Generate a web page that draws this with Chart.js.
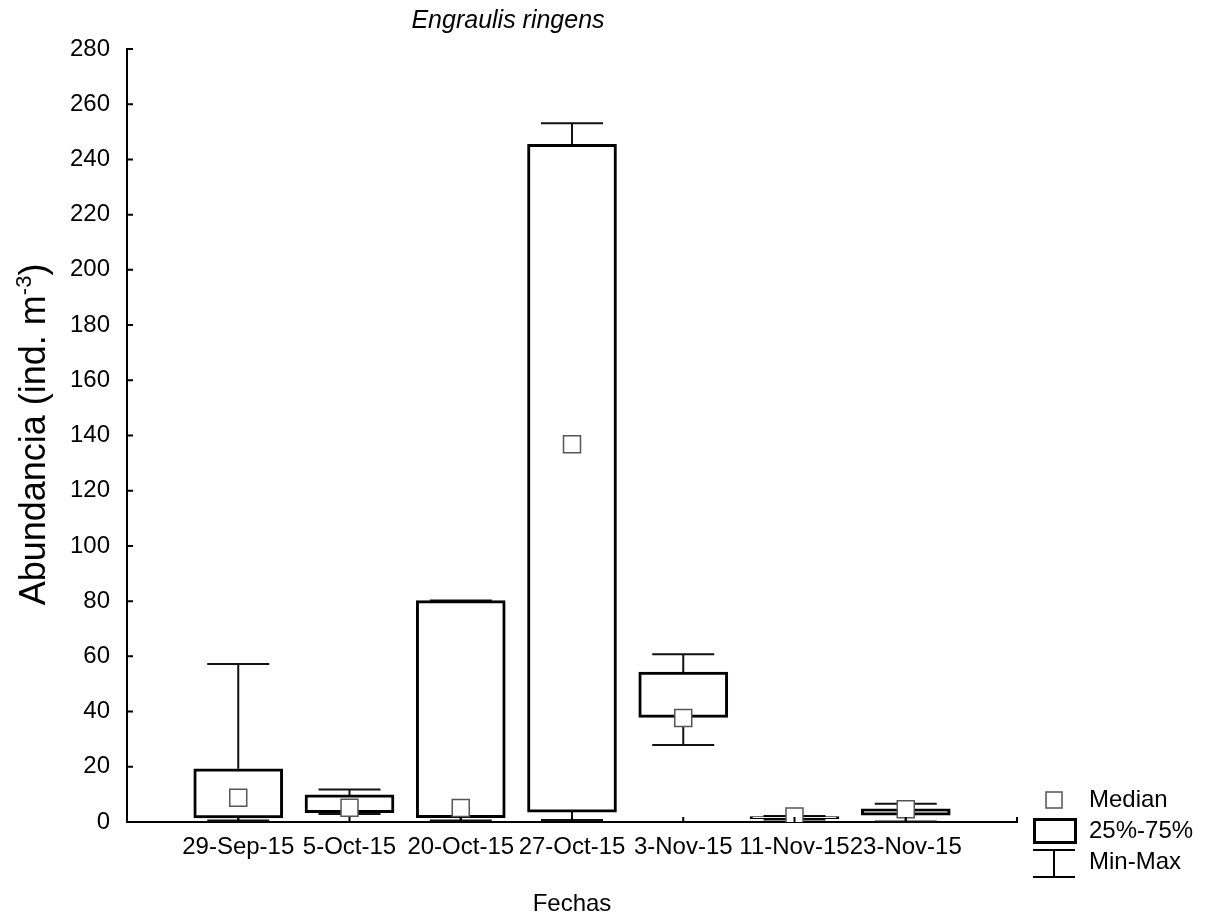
<!DOCTYPE html>
<html>
<head>
<meta charset="utf-8">
<script src="https://cdn.jsdelivr.net/npm/chart.js"></script>
<style>
  body { margin: 0; background: #fff; }
  #wrap { width: 1212px; height: 916px; }
</style>
</head>
<body>
<div id="wrap"><canvas id="boxchart"></canvas></div>
<script>
// data block
const fechas = ['29-Sep-15', '5-Oct-15', '20-Oct-15', '27-Oct-15', '3-Nov-15', '11-Nov-15', '23-Nov-15'];
const minVals = [0.5, 2.9, 0.5, 0.7, 27.9, 0.9, 0.2];
const q1Vals = [1.5, 3.4, 1.6, 3.6, 37.9, 1.2, 2.5];
const medianVals = [8.8, 5.2, 5.1, 136.8, 37.7, 2.0, 4.6];
const q3Vals = [19.3, 9.8, 80.2, 245.5, 54.3, 2.0, 4.8];
const maxVals = [57.2, 11.8, 80.2, 253.1, 60.8, 2.2, 6.6];
const yMin = 0, yMax = 280, yStep = 20;

const FONT = "'Liberation Sans', Arial, sans-serif";

// whiskers (min-max) drawn behind the boxes
const whiskerPlugin = {
  id: 'whiskers',
  beforeDatasetsDraw(chart) {
    const { ctx, scales: { x, y } } = chart;
    ctx.save();
    ctx.strokeStyle = '#111';
    ctx.lineWidth = 2;
    fechas.forEach((f, i) => {
      const px = x.getPixelForValue(i + 1);
      const half = 31;
      const yMaxP = y.getPixelForValue(maxVals[i]);
      const yMinP = y.getPixelForValue(minVals[i]);
      ctx.beginPath();
      ctx.moveTo(px, yMaxP); ctx.lineTo(px, y.getPixelForValue(q3Vals[i]));
      ctx.moveTo(px, yMinP); ctx.lineTo(px, y.getPixelForValue(q1Vals[i]));
      ctx.moveTo(px - half, yMaxP); ctx.lineTo(px + half, yMaxP);
      ctx.moveTo(px - half, yMinP); ctx.lineTo(px + half, yMinP);
      ctx.stroke();
    });
    ctx.restore();
  }
};

// inward ticks, titles, legend
const decorPlugin = {
  id: 'decor',
  afterDraw(chart) {
    const { ctx, chartArea: ca, scales: { x, y } } = chart;
    ctx.save();
    ctx.strokeStyle = '#000';
    ctx.lineWidth = 2;
    ctx.beginPath();
    for (let v = yMin; v <= yMax; v += yStep) {
      const py = y.getPixelForValue(v);
      ctx.moveTo(ca.left, py); ctx.lineTo(ca.left + 6, py);
    }
    for (let v = 0; v <= fechas.length + 1; v++) {
      const px = x.getPixelForValue(v);
      ctx.moveTo(px, ca.bottom); ctx.lineTo(px, ca.bottom - 5);
    }
    ctx.stroke();

    ctx.fillStyle = '#000';
    // title
    ctx.font = 'italic 25px ' + FONT;
    ctx.textAlign = 'center';
    ctx.textBaseline = 'alphabetic';
    ctx.fillText('Engraulis ringens', 508, 28);

    // x title
    ctx.font = '24px ' + FONT;
    ctx.fillText('Fechas', (ca.left + ca.right) / 2, 911);

    // y title with superscript
    ctx.save();
    ctx.translate(45, (ca.top + ca.bottom) / 2 - 1);
    ctx.rotate(-Math.PI / 2);
    ctx.textAlign = 'left';
    const mainFont = '36px ' + FONT, supFont = '22px ' + FONT;
    const p1 = 'Abundancia (ind. m', p2 = '-3', p3 = ')';
    ctx.font = mainFont; const w1 = ctx.measureText(p1).width, w3 = ctx.measureText(p3).width;
    ctx.font = supFont; const w2 = ctx.measureText(p2).width;
    let sx = -(w1 + w2 + w3) / 2;
    ctx.font = mainFont; ctx.fillText(p1, sx, 0); sx += w1;
    ctx.font = supFont; ctx.fillText(p2, sx, -14); sx += w2;
    ctx.font = mainFont; ctx.fillText(p3, sx, 0);
    ctx.restore();

    // legend
    ctx.strokeStyle = '#555';
    ctx.lineWidth = 1.5;
    ctx.fillStyle = '#fff';
    ctx.fillRect(1046, 792, 16, 16);
    ctx.strokeRect(1046, 792, 16, 16);
    ctx.strokeStyle = '#000';
    ctx.lineWidth = 3;
    ctx.strokeRect(1034.5, 819.5, 41, 23);
    ctx.lineWidth = 2;
    ctx.beginPath();
    ctx.moveTo(1033, 850); ctx.lineTo(1075, 850);
    ctx.moveTo(1054, 850); ctx.lineTo(1054, 877);
    ctx.moveTo(1033, 877); ctx.lineTo(1075, 877);
    ctx.stroke();
    ctx.fillStyle = '#000';
    ctx.font = '24px ' + FONT;
    ctx.textAlign = 'left';
    ctx.textBaseline = 'middle';
    ctx.fillText('Median', 1089, 800);
    ctx.fillText('25%-75%', 1089, 831);
    ctx.fillText('Min-Max', 1089, 862);
    ctx.restore();
  }
};

const data = {
  datasets: [
    {
      type: 'scatter',
      label: 'Median',
      data: fechas.map((f, i) => ({ x: i + 1, y: medianVals[i] })),
      pointStyle: 'rect',
      pointRadius: 12,
      pointBorderWidth: 1.5,
      pointBorderColor: '#555',
      pointBackgroundColor: '#fff',
      order: 0
    },
    {
      type: 'bar',
      label: '25%-75%',
      data: fechas.map((f, i) => ({ x: i + 1, y: [q1Vals[i], q3Vals[i]] })),
      backgroundColor: '#fff',
      borderColor: '#000',
      borderWidth: 3,
      borderSkipped: false,
      barThickness: 89,
      order: 1
    }
  ]
};

const config = {
  type: 'bar',
  data: data,
  options: {
    responsive: true,
    maintainAspectRatio: false,
    animation: false,
    layout: { padding: { left: 0, right: 195, top: 49, bottom: 0 } },
    plugins: { legend: { display: false }, tooltip: { enabled: false }, title: { display: false } },
    scales: {
      x: {
        type: 'linear',
        offset: false,
        min: 0,
        max: fechas.length + 1,
        grid: { display: false, drawTicks: false, offset: false },
        border: { display: true, color: '#000', width: 2 },
        afterBuildTicks: (scale) => { scale.ticks = fechas.map((f, i) => ({ value: i + 1 })); },
        afterFit: (scale) => { scale.height = 94; },
        ticks: {
          autoSkip: false,
          maxRotation: 0,
          padding: 11,
          color: '#000',
          font: { family: FONT, size: 24 },
          callback: (v) => fechas[v - 1]
        }
      },
      y: {
        min: yMin,
        max: yMax,
        grid: { display: false, drawTicks: false },
        border: { display: true, color: '#000', width: 2 },
        afterFit: (scale) => { scale.width = 127; },
        ticks: {
          stepSize: yStep,
          padding: 17,
          color: '#000',
          font: { family: FONT, size: 24 }
        }
      }
    }
  },
  plugins: [whiskerPlugin, decorPlugin]
};

const boxchart = new Chart(document.getElementById('boxchart'), config);
</script>
</body>
</html>
